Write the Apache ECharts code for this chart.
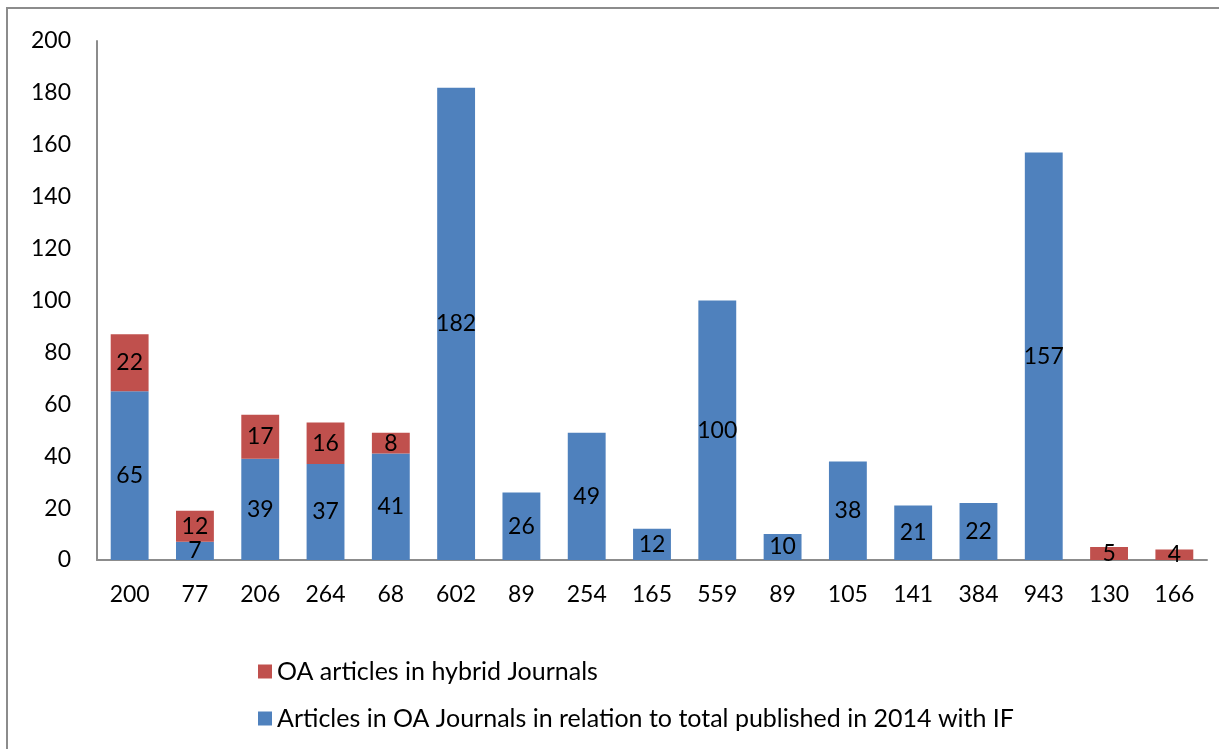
<!DOCTYPE html>
<html>
<head>
<meta charset="utf-8">
<script src="https://cdn.jsdelivr.net/npm/echarts@6/dist/echarts.min.js"></script>
<style>
  html, body { margin: 0; padding: 0; background: #fff; }
  #chart { width: 1219px; height: 749px; }
</style>
</head>
<body>
<div id="chart"></div>
<script>
const categories = ["200", "77", "206", "264", "68", "602", "89", "254", "165", "559", "89", "105", "141", "384", "943", "130", "166"];
const oaJournalArticles = [65, 7, 39, 37, 41, 182, 26, 49, 12, 100, 10, 38, 21, 22, 157, null, null];
const hybridArticles = [22, 12, 17, 16, 8, null, null, null, null, null, null, null, null, null, null, 5, 4];
const yTicks = { min: 0, max: 200, interval: 20 };

const FONT = "Lato";
const chart = echarts.init(document.getElementById("chart"));

const labelStyle = {
  show: true,
  position: "inside",
  color: "#000",
  fontFamily: FONT,
  fontSize: 23,
};

chart.setOption({
  animation: false,
  textStyle: { fontFamily: FONT },
  grid: { left: 97, right: 12, top: 41, bottom: 189 },
  graphic: [
    {
      type: "polyline",
      shape: { points: [[7, 749], [7, 8], [1219, 8]] },
      style: { stroke: "#8c8c8c", lineWidth: 2, fill: null },
    },
  ],
  legend: {
    orient: "vertical",
    left: 253,
    top: 654,
    itemWidth: 14,
    itemHeight: 14,
    itemGap: 22,
    icon: "rect",
    data: ["OA articles in hybrid Journals", "Articles in OA Journals in relation to total published in 2014 with IF"],
    textStyle: { fontFamily: FONT, fontSize: 25, color: "#000" },
  },
  xAxis: {
    type: "category",
    data: categories,
    axisLine: { lineStyle: { color: "#8c8c8c", width: 2 } },
    axisTick: { show: false },
    axisLabel: { color: "#000", fontSize: 23, fontFamily: FONT, margin: 23 },
  },
  yAxis: {
    type: "value",
    min: yTicks.min,
    max: yTicks.max,
    interval: yTicks.interval,
    splitLine: { show: false },
    axisLine: { show: true, lineStyle: { color: "#8c8c8c", width: 2 } },
    axisTick: { show: false },
    axisLabel: { color: "#000", fontSize: 23, fontFamily: FONT, margin: 26 },
  },
  series: [
    {
      name: "Articles in OA Journals in relation to total published in 2014 with IF",
      type: "bar",
      stack: "total",
      barWidth: "58%",
      data: oaJournalArticles,
      itemStyle: { color: "#4F81BD" },
      label: labelStyle,
    },
    {
      name: "OA articles in hybrid Journals",
      type: "bar",
      stack: "total",
      barWidth: "58%",
      data: hybridArticles,
      itemStyle: { color: "#C0504D" },
      label: labelStyle,
    },
  ],
});
</script>
</body>
</html>
